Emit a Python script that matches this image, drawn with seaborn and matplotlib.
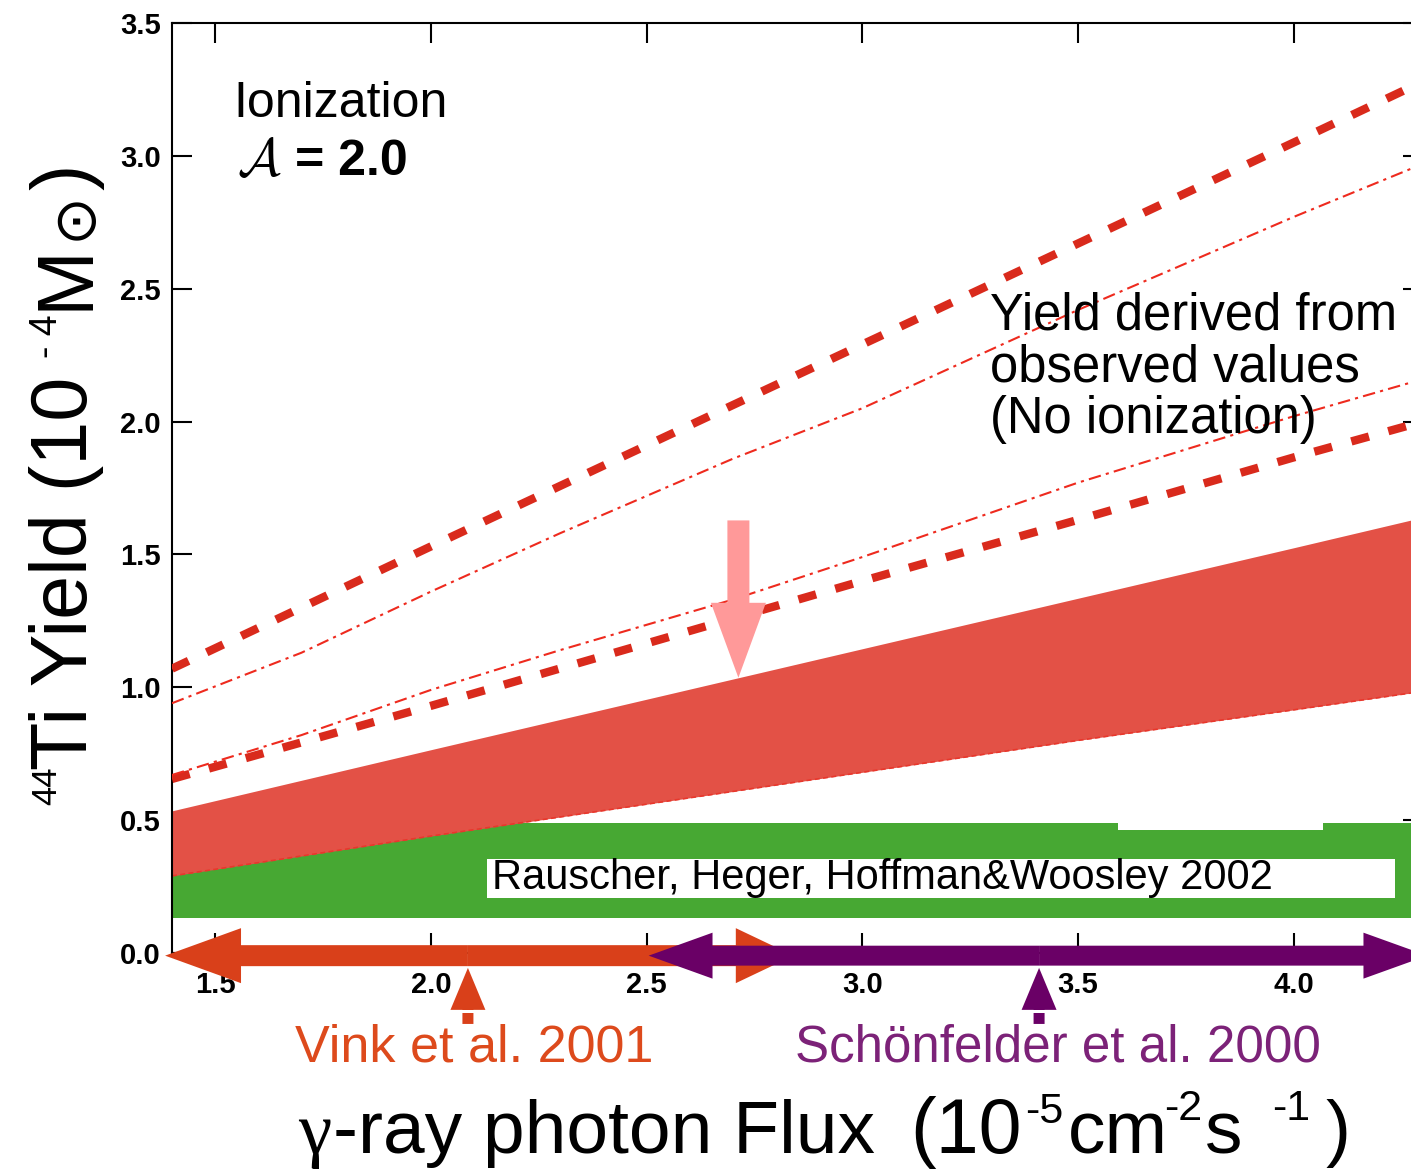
import numpy as np
import pandas as pd
import matplotlib
matplotlib.use("Agg")
import matplotlib.pyplot as plt
import seaborn as sns
from matplotlib.patches import FancyArrow, Rectangle

# ---------------- data ----------------
flux_a = [1.4, 2.0, 2.5, 3.0, 3.5, 4.0, 4.3]
thick_hi = [1.07, 1.53, 1.91, 2.29, 2.67, 3.05, 3.28]
thick_lo = [0.655, 0.93, 1.165, 1.40, 1.63, 1.865, 2.00]

flux_b = [1.4, 1.7, 2.0, 2.3, 2.7, 3.0, 3.5, 4.0, 4.3]
thin_hi = [0.94, 1.13, 1.36, 1.58, 1.86, 2.05, 2.42, 2.77, 2.97]
thin_mid = [0.67, 0.82, 0.99, 1.14, 1.33, 1.49, 1.77, 2.02, 2.16]

band_hi = [0.535, 0.765, 0.955, 1.145, 1.335, 1.525, 1.64]
band_lo = [0.29, 0.44, 0.56, 0.68, 0.80, 0.915, 0.985]

green_x = [1.4, 3.593, 3.593, 4.068, 4.068, 4.3]
green_top = [0.489, 0.489, 0.462, 0.462, 0.489, 0.489]
green_bottom = 0.132

vink_flux, vink_lo, vink_hi = 2.086, 1.384, 2.841
schon_flux, schon_lo, schon_hi = 3.41, 2.505, 4.31
pink_flux, pink_top = 2.713, 1.628

xticks = [1.5, 2.0, 2.5, 3.0, 3.5, 4.0]
xticklabels = ["1.5", "2.0", "2.5", "3.0", "3.5", "4.0"]
yticks = [0.0, 0.5, 1.0, 1.5, 2.0, 2.5, 3.0, 3.5]
yticklabels = ["0.0", "0.5", "1.0", "1.5", "2.0", "2.5", "3.0", "3.5"]

# ---------------- style ----------------
sns.set_theme(style="ticks")
plt.rcParams["font.family"] = ["Liberation Sans", "DejaVu Sans"]
plt.rcParams["mathtext.fontset"] = "custom"
plt.rcParams["mathtext.rm"] = "Liberation Sans"
plt.rcParams["mathtext.it"] = "Liberation Sans:italic"
plt.rcParams["mathtext.bf"] = "Liberation Sans:bold"
plt.rcParams["text.color"] = "black"
plt.rcParams["axes.labelcolor"] = "black"
plt.rcParams["xtick.color"] = "black"
plt.rcParams["ytick.color"] = "black"

RED_THICK = "#D92A1C"
RED_THIN = "#EE2A1E"
BAND = "#E35146"
GREEN = "#47A833"
ORANGE = "#D9401A"
PURPLE = "#6A0066"
PINK = "#FF9999"

W, H = 1411, 1169
fig = plt.figure(figsize=(W / 100, H / 100), dpi=100)
L, R, T, B = 172, 1423, 23, 953
ax = fig.add_axes([L / W, 1 - B / H, (R - L) / W, (B - T) / H])
ax.set_xlim(1.4, 4.3)
ax.set_ylim(0, 3.5)

def fx(px):
    return px / W

def fy(py):
    return 1 - py / H

# bands
ax.fill_between(green_x, green_bottom, green_top, color=GREEN, lw=0, zorder=1)
ax.fill_between(flux_a, band_lo, band_hi, color=BAND, lw=0, zorder=2)
sns.lineplot(x=flux_a, y=band_lo, ax=ax, color="#E8372C", lw=1.2,
             linestyle=(0, (3, 2)), zorder=2.1)

# lines
df_a = pd.DataFrame({"flux": flux_a, "hi": thick_hi, "lo": thick_lo})
df_b = pd.DataFrame({"flux": flux_b, "hi": thin_hi, "mid": thin_mid})
for col in ["hi", "lo"]:
    sns.lineplot(data=df_a, x="flux", y=col, ax=ax, color=RED_THICK, lw=6.0,
                 linestyle=(0, (2.2, 2.4)), dash_capstyle="butt", zorder=3)
for col in ["hi", "mid"]:
    sns.lineplot(data=df_b, x="flux", y=col, ax=ax, color=RED_THIN, lw=1.5,
                 linestyle=(0, (6, 2.5, 1.5, 2.5)), zorder=3)

# pink arrow pointing to the band edge
pink_tip = np.interp(pink_flux, flux_a, band_hi)
ax.add_patch(FancyArrow(pink_flux, pink_top, 0, pink_tip - pink_top,
                        width=0.051, head_width=0.1275, head_length=0.282,
                        length_includes_head=True, color=PINK, lw=0, zorder=4))

# Rauscher label box
ax.add_patch(Rectangle((2.130, 0.207), 4.235 - 2.130, 0.353 - 0.207,
                       facecolor="white", edgecolor="none", zorder=5))
fig.text(fx(492), fy(889), "Rauscher, Heger, Hoffman&Woosley 2002",
         fontsize=30, va="baseline", ha="left", zorder=6)

# horizontal range arrows
def hrange(lo, hi, center, color, w, hw, hl_lo, hl_hi, z):
    for end, hl in ((lo, hl_lo), (hi, hl_hi)):
        ax.add_patch(FancyArrow(center, -0.01, end - center, 0, width=w,
                                head_width=hw, head_length=hl,
                                length_includes_head=True, color=color, lw=0,
                                clip_on=False, zorder=z))

hrange(vink_lo, vink_hi, vink_flux, ORANGE, 0.079, 0.207, 0.176, 0.134, 6)
hrange(schon_lo, schon_hi, schon_flux, PURPLE, 0.075, 0.173, 0.148, 0.148, 7)

# vertical markers for measured values
def up(xv, color):
    ax.add_patch(FancyArrow(xv, -0.267, 0, 0.211, width=0.0255,
                            head_width=0.081, head_length=0.158,
                            length_includes_head=True, color=color, lw=0,
                            clip_on=False, zorder=7))
    ax.add_patch(Rectangle((xv - 0.04, -0.226), 0.08, 0.01,
                           facecolor="white", edgecolor="none",
                           clip_on=False, zorder=7.5))

up(vink_flux, ORANGE)
up(schon_flux, PURPLE)

# axes styling
ax.set_xticks(xticks)
ax.set_xticklabels(xticklabels)
ax.set_yticks(yticks)
ax.set_yticklabels(yticklabels)
ax.tick_params(axis="both", direction="in", length=14.4, width=1.5,
               top=True, right=True, labelsize=21, colors="black")
ax.tick_params(axis="x", pad=13)
ax.tick_params(axis="y", pad=8)
for lbl in ax.get_xticklabels() + ax.get_yticklabels():
    lbl.set_fontweight("bold")
for s in ax.spines.values():
    s.set_linewidth(1.5)
    s.set_color("black")
ax.set_xlabel("")
ax.set_ylabel("")

# texts
fig.text(fx(233), fy(117), "Ionization", fontsize=36, va="baseline")
fig.text(fx(237), fy(176), r"$\mathcal{A}$", fontsize=38, va="baseline",
         math_fontfamily="cm")
fig.text(fx(295), fy(175), "= 2.0", fontsize=36, fontweight="bold",
         va="baseline")

for txt, by in (("Yield derived from", 329), ("observed values", 382),
                ("(No ionization)", 433)):
    fig.text(fx(990), fy(by), txt, fontsize=36.5, va="baseline")

fig.text(fx(295), fy(1062), "Vink et al. 2001", fontsize=37.5,
         color="#DD4A1C", va="baseline")
fig.text(fx(795), fy(1062), "Schönfelder et al. 2000", fontsize=36.8,
         color="#7C2278", va="baseline")

# x axis title, assembled piece by piece (baseline pieces + superscripts)
XL = 54
XS = 31
fig.text(fx(298), fy(1153), "γ", fontsize=XL, family="Liberation Serif",
         va="baseline")
for txt, px_, py_, sz in (("-ray photon Flux", 333, 1153, XL),
                          ("(10", 910, 1153, 55.5),
                          ("-5", 1025, 1123, XS),
                          ("cm", 1068, 1153, XL),
                          ("-2", 1164, 1120, XS),
                          ("s", 1205, 1153, XL),
                          ("-1", 1272, 1120, XS),
                          (")", 1325, 1153, XL)):
    fig.text(fx(px_), fy(py_), txt, fontsize=sz, va="baseline", ha="left")

# y axis title, rotated pieces
YL = 57
for txt, bx, sy, sz, fam in (("44", 56, 805, 25, None),
                             ("Ti Yield (10", 87, 770, YL, None),
                             ("- 4", 57, 358, 27, None),
                             ("M", 87, 310, YL, None),
                             ("⊙", 91, 240, 42, "DejaVu Sans"),
                             (")", 87, 190, YL, None)):
    kw = {"family": fam} if fam else {}
    fig.text(fx(bx), fy(sy), txt, fontsize=sz, rotation=90,
             rotation_mode="anchor", ha="left", va="baseline", **kw)

fig.savefig("out.png", dpi=100)
